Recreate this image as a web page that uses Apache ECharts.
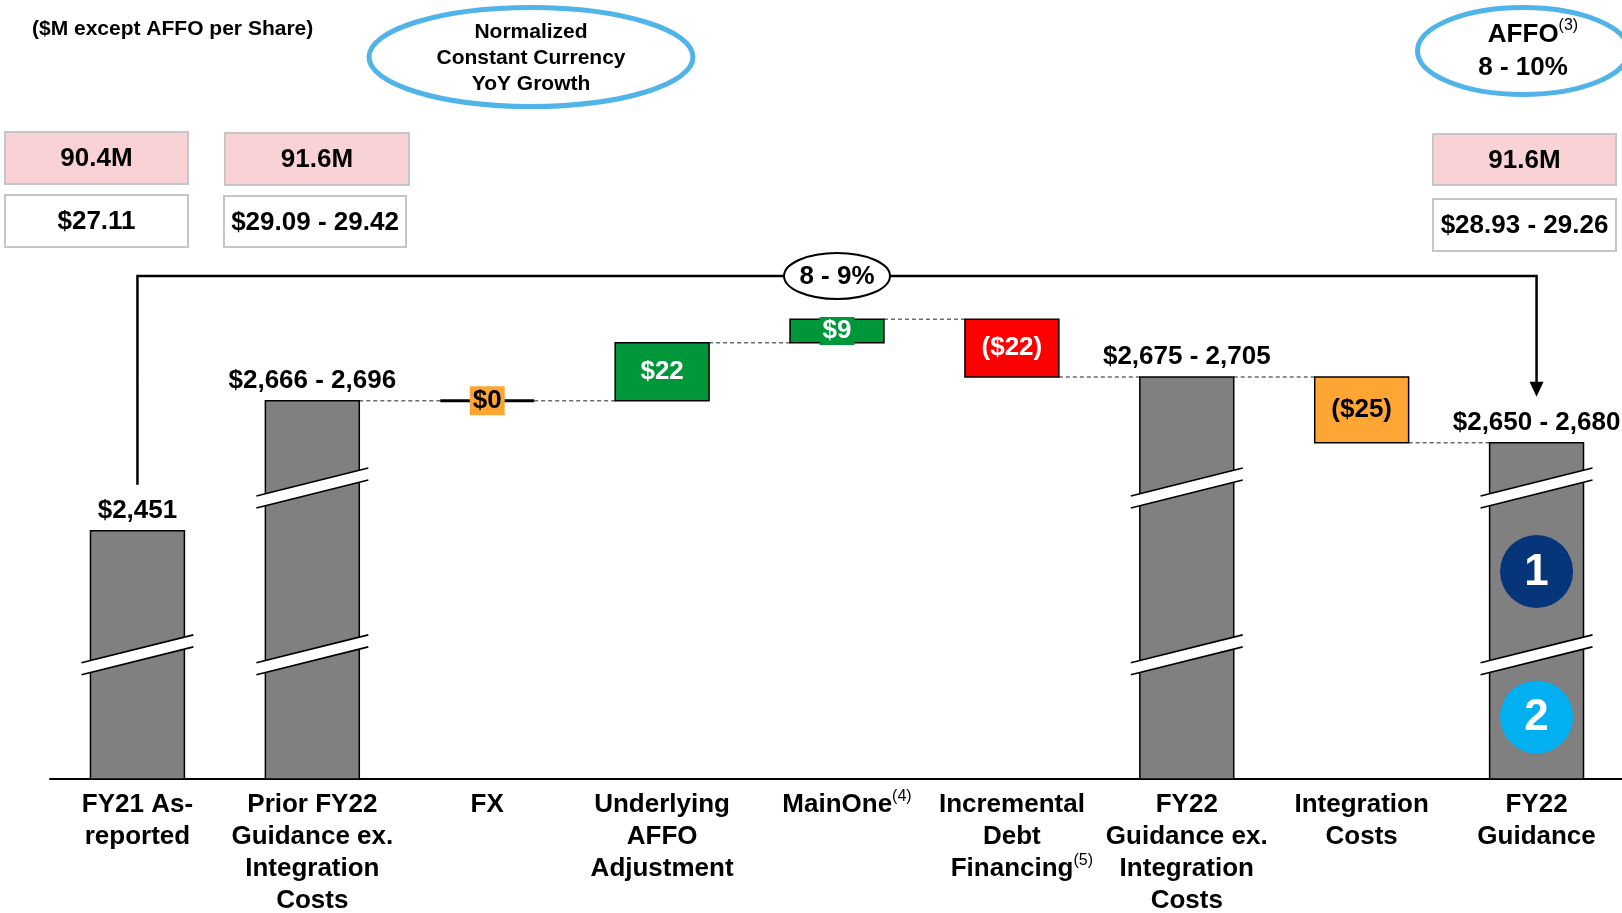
<!DOCTYPE html>
<html>
<head>
<meta charset="utf-8">
<script src="https://cdn.jsdelivr.net/npm/echarts@6/dist/echarts.min.js"></script>
<style>
  html, body { margin: 0; padding: 0; background: #fff; }
  #chart { width: 1622px; height: 913px; }
</style>
</head>
<body>
<div id="chart"></div>
<script>
// ---- AFFO bridge data ($M) ----
const categories = [
  'FY21 As-\nreported',
  'Prior FY22\nGuidance ex.\nIntegration\nCosts',
  'FX',
  'Underlying\nAFFO\nAdjustment',
  'MainOne',
  'Incremental\nDebt\nFinancing',
  'FY22\nGuidance ex.\nIntegration\nCosts',
  'Integration\nCosts',
  'FY22\nGuidance'
];
const footnotes = [null, null, null, null, '(4)', '(5)', null, null, null];
const stepType  = ['total', 'total', 'delta', 'delta', 'delta', 'delta', 'total', 'delta', 'total'];
const totalLow  = [2451, 2666, null, null, null, null, 2675, null, 2650];
const totalHigh = [2451, 2696, null, null, null, null, 2705, null, 2680];
const deltas    = [null, null, 0, 22, 9, -22, null, -25, null];

// per-share boxes above the bridge
const shareCounts = ['90.4M', '91.6M', '91.6M'];
const perShare    = ['$27.11', '$29.09 - 29.42', '$28.93 - 29.26'];
const bridgeGrowth = '8 - 9%';
const affoGrowth   = '8 - 10%';
const guidanceMarkers = ['1', '2'];

// broken value axis (start/end in $M, gap in $M)
const axisBreaks = [
  { start: 45, end: 2406, gap: 4.5 },
  { start: 2465, end: 2650, gap: 4.5 }
];

// ---- styling ----
const FONT = '"Liberation Sans", Arial, Helvetica, sans-serif';
const stepColors = ['#808080', '#808080', '#FFA533', '#00973A', '#00973A', '#FF0000', '#808080', '#FFA533', '#808080'];
const labelInk   = ['#000', '#000', '#000', '#fff', '#fff', '#fff', '#000', '#000', '#000'];
const markerColors = ['#06357A', '#00B0F0'];
const BAR_RATIO = 0.537;

// ---- derived waterfall geometry (values only) ----
const fmt = v => Math.abs(v).toLocaleString('en-US');
const steps = [];
const stepLabels = [];
let level = 0;
categories.forEach((c, i) => {
  if (stepType[i] === 'total') {
    level = (totalLow[i] + totalHigh[i]) / 2;
    steps.push([i, 0, level]);
    stepLabels.push(totalLow[i] === totalHigh[i]
      ? '$' + fmt(totalLow[i])
      : '$' + fmt(totalLow[i]) + ' - ' + fmt(totalHigh[i]));
  } else {
    const s = level;
    level = s + deltas[i];
    steps.push([i, s, level]);
    stepLabels.push(deltas[i] < 0 ? '($' + fmt(deltas[i]) + ')' : '$' + fmt(deltas[i]));
  }
});
const lastIdx = categories.length - 1;

function renderStep(params, api) {
  const i = api.value(0), v0 = api.value(1), v1 = api.value(2);
  const p0 = api.coord([i, v0]);
  const p1 = api.coord([i, v1]);
  const cx = p0[0];
  const w = api.size([1, 0])[0] * BAR_RATIO;
  const top = Math.min(p0[1], p1[1]);
  const bottom = Math.max(p0[1], p1[1]);
  const children = [];

  // dashed connector to the next step
  if (i > 0 && i < lastIdx) {
    const nx = api.coord([i + 1, v1])[0];
    children.push({
      type: 'line',
      shape: { x1: cx + w / 2, y1: p1[1], x2: nx - w / 2, y2: p1[1] },
      style: { stroke: '#6b6b6b', lineWidth: 1.5, lineDash: [4, 3] }
    });
  }

  if (stepType[i] === 'total') {
    children.push({
      type: 'rect',
      shape: { x: cx - w / 2, y: top, width: w, height: bottom - top },
      style: { fill: stepColors[i], stroke: '#000', lineWidth: 1.5 }
    });
    const breakCenters = [];
    axisBreaks.forEach(b => {
      if (v1 <= b.end) return;
      const yc = (api.coord([i, b.start])[1] + api.coord([i, b.end])[1]) / 2;
      breakCenters.push(yc);
      const hw = w / 2 + 9, rise = hw * 0.25, half = 6;
      const xl = cx - hw, xr = cx + hw;
      children.push({
        type: 'polygon',
        shape: { points: [[xl, yc + rise - half], [xr, yc - rise - half], [xr, yc - rise + half], [xl, yc + rise + half]] },
        style: { fill: '#fff', stroke: null }
      });
      children.push({
        type: 'line',
        shape: { x1: xl, y1: yc + rise - half, x2: xr, y2: yc - rise - half },
        style: { stroke: '#000', lineWidth: 1.6 }
      });
      children.push({
        type: 'line',
        shape: { x1: xl, y1: yc + rise + half, x2: xr, y2: yc - rise + half },
        style: { stroke: '#000', lineWidth: 1.6 }
      });
    });
    children.push({
      type: 'text',
      style: {
        text: stepLabels[i], x: cx, y: top - 7, align: 'center', verticalAlign: 'bottom',
        font: 'bold 26px ' + FONT, fill: labelInk[i]
      }
    });
    if (i === lastIdx) {
      // numbered markers sit in the bar segments between the breaks
      const sorted = breakCenters.slice().sort((a, b) => a - b);
      const edges = [sorted[0], sorted[1], bottom];
      guidanceMarkers.forEach((m, k) => {
        const cy = (edges[k] + edges[k + 1]) / 2;
        children.push({
          type: 'circle',
          shape: { cx: cx, cy: cy, r: 36.5 },
          style: { fill: markerColors[k], stroke: null }
        });
        children.push({
          type: 'text',
          style: {
            text: m, x: cx, y: cy + 1, align: 'center', verticalAlign: 'middle',
            font: 'bold 44px ' + FONT, fill: '#fff'
          }
        });
      });
    }
  } else if (v0 === v1) {
    children.push({
      type: 'rect',
      shape: { x: cx - w / 2, y: p1[1] - 1.5, width: w, height: 3 },
      style: { fill: '#000' }
    });
    children.push({
      type: 'text',
      style: {
        text: stepLabels[i], x: cx, y: p1[1], align: 'center', verticalAlign: 'middle',
        font: 'bold 26px ' + FONT, fill: labelInk[i],
        backgroundColor: stepColors[i], padding: [1, 3, 0, 3], lineHeight: 28
      }
    });
  } else {
    children.push({
      type: 'rect',
      shape: { x: cx - w / 2, y: top, width: w, height: bottom - top },
      style: { fill: stepColors[i], stroke: '#000', lineWidth: 1.5 }
    });
    const small = (bottom - top) < 30;
    const txt = {
      text: stepLabels[i], x: cx, y: (top + bottom) / 2, align: 'center', verticalAlign: 'middle',
      font: 'bold 26px ' + FONT, fill: labelInk[i]
    };
    if (small) {
      txt.backgroundColor = stepColors[i];
      txt.padding = [1, 3, 0, 3];
      txt.lineHeight = 27;
    }
    children.push({ type: 'text', style: txt });
  }
  return { type: 'group', children: children };
}

function renderBracket(params, api) {
  const first = steps[0], last = steps[lastIdx];
  const x0 = api.coord([0, first[2]])[0];
  const x1 = api.coord([lastIdx, last[2]])[0];
  const yLine = params.coordSys.y + 33;
  const yLeft = api.coord([0, first[2]])[1] - 46;
  const yTip = api.coord([lastIdx, last[2]])[1] - 46;
  const xm = api.coord([4, first[2]])[0];
  return {
    type: 'group',
    children: [
      {
        type: 'polyline',
        shape: { points: [[x0, yLeft], [x0, yLine], [x1, yLine], [x1, yTip - 14]] },
        style: { stroke: '#000', lineWidth: 2.5, fill: null }
      },
      {
        type: 'polygon',
        shape: { points: [[x1 - 7, yTip - 15], [x1 + 7, yTip - 15], [x1, yTip]] },
        style: { fill: '#000' }
      },
      {
        type: 'ellipse',
        shape: { cx: xm, cy: yLine, rx: 53, ry: 23 },
        style: { fill: '#fff', stroke: '#000', lineWidth: 2 }
      },
      {
        type: 'text',
        style: {
          text: bridgeGrowth, x: xm, y: yLine + 1, align: 'center', verticalAlign: 'middle',
          font: 'bold 26px ' + FONT, fill: '#000'
        }
      }
    ]
  };
}

// ---- header annotations ----
const pink = '#F9D2D5', boxLine = '#C6C6C6';
const boxes = [
  { x: 5,    y: 132, w: 183, h: 52, fill: pink,   text: shareCounts[0] },
  { x: 225,  y: 133, w: 184, h: 52, fill: pink,   text: shareCounts[1] },
  { x: 1433, y: 134, w: 183, h: 51, fill: pink,   text: shareCounts[2] },
  { x: 5,    y: 195, w: 183, h: 52, fill: '#fff', text: perShare[0] },
  { x: 224,  y: 196, w: 182, h: 51, fill: '#fff', text: perShare[1] },
  { x: 1433, y: 199, w: 183, h: 52, fill: '#fff', text: perShare[2] }
];
const graphic = [
  {
    type: 'text', x: 32, y: 29,
    style: { text: '($M except AFFO per Share)', font: 'bold 21px ' + FONT, fill: '#000', verticalAlign: 'middle' }
  },
  {
    type: 'ellipse', shape: { cx: 531, cy: 57, rx: 162, ry: 49.5 },
    style: { fill: '#fff', stroke: '#51B4E8', lineWidth: 5 }
  },
  {
    type: 'text', x: 531, y: 58,
    style: {
      text: 'Normalized\nConstant Currency\nYoY Growth', font: 'bold 21px ' + FONT, fill: '#000',
      align: 'center', verticalAlign: 'middle', lineHeight: 26
    }
  },
  {
    type: 'ellipse', shape: { cx: 1523, cy: 51, rx: 105.5, ry: 43.5 },
    style: { fill: '#fff', stroke: '#51B4E8', lineWidth: 5 }
  },
  {
    type: 'text', x: 1523, y: 51,
    style: {
      text: '{p| }{a|AFFO}{s|(3)}\n{a|' + affoGrowth + '}',
      align: 'center', verticalAlign: 'middle',
      rich: {
        p: { width: 20, fontSize: 16, fontFamily: FONT },
        a: { fontSize: 26, fontWeight: 'bold', fontFamily: FONT, lineHeight: 33, fill: '#000' },
        s: { fontSize: 16, fontFamily: FONT, lineHeight: 16, verticalAlign: 'top', fill: '#000' }
      }
    }
  }
];
boxes.forEach(b => {
  graphic.push({
    type: 'rect', shape: { x: b.x, y: b.y, width: b.w, height: b.h },
    style: { fill: b.fill, stroke: boxLine, lineWidth: 2 }
  });
  graphic.push({
    type: 'text', x: b.x + b.w / 2, y: b.y + b.h / 2 + 1,
    style: { text: b.text, font: 'bold 26px ' + FONT, fill: '#000', align: 'center', verticalAlign: 'middle' }
  });
});

const chart = echarts.init(document.getElementById('chart'), null, { renderer: 'canvas' });
chart.setOption({
  animation: false,
  backgroundColor: '#fff',
  grid: { left: 50, width: 1574, top: 243, height: 536, containLabel: false, outerBoundsMode: 'none' },
  xAxis: {
    type: 'category',
    data: categories,
    boundaryGap: true,
    axisLine: { show: true, lineStyle: { color: '#000', width: 2 } },
    axisTick: { show: false },
    axisLabel: {
      interval: 0,
      margin: 10,
      color: '#000',
      fontFamily: FONT,
      fontSize: 26,
      fontWeight: 'bold',
      lineHeight: 32,
      formatter: (value, idx) => {
        const lines = value.split('\n');
        if (footnotes[idx]) {
          const k = lines.length - 1;
          lines[k] = '{pad| }' + lines[k] + '{sup|' + footnotes[idx] + '}';
        }
        return lines.join('\n');
      },
      rich: {
        pad: { width: 20, fontSize: 16, lineHeight: 32 },
        sup: { fontSize: 16, fontWeight: 'normal', fontFamily: FONT, color: '#000', lineHeight: 16, verticalAlign: 'top' }
      }
    }
  },
  yAxis: {
    type: 'value',
    min: 0,
    max: 2741,
    breaks: axisBreaks.map(b => ({ start: b.start, end: b.end, gap: b.gap })),
    breakArea: { show: false },
    axisLine: { show: false },
    axisTick: { show: false },
    axisLabel: { show: false },
    splitLine: { show: false }
  },
  series: [
    {
      type: 'custom',
      name: 'AFFO bridge',
      renderItem: renderStep,
      encode: { x: 0, y: [1, 2] },
      data: steps,
      z: 3
    },
    {
      type: 'custom',
      name: 'Growth bracket',
      renderItem: renderBracket,
      encode: { x: 0, y: 1 },
      data: [[0, steps[0][2]]],
      z: 4
    }
  ],
  graphic: graphic
});
</script>
</body>
</html>
